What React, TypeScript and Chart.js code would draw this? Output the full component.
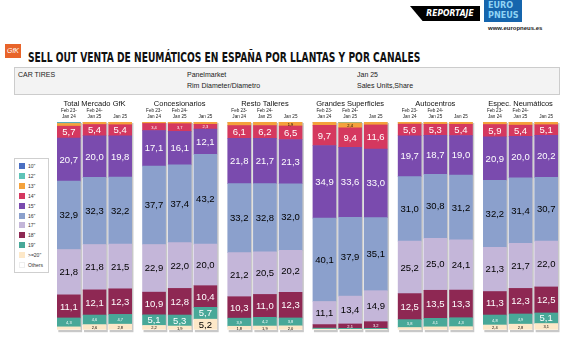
import React, { useEffect, useRef } from "react";
import { Chart, registerables } from "chart.js";
Chart.register(...registerables);

const groups = ["Total Mercado GfK", "Concesionarios", "Resto Talleres", "Grandes Superficies", "Autocentros", "Espec. Neumáticos"];
const periods = [["Feb 23-", "Jan 24"], ["Feb 24-", "Jan 25"], ["", "Jan 25"]];
const sizeLabels = ['10"', '12"', '13"', '14"', '15"', '16"', '17"', '18"', '19"', '>=20"', "Others"];
const sizeColors = ["#4a6fc2", "#5ec3b7", "#f4a23c", "#d5385f", "#7a4bae", "#8ba0cc", "#c4b6d9", "#8e2853", "#48a898", "#fde8c8", "#ffffff"];

// 18 bars: 6 channels x 3 periods
const s10 = [0.3, 0, 0, 0, 0, 0, 0, 0, 0, 0, 0, 0, 0, 0, 0, 0, 0, 0];
const s12 = [0.4, 0, 0, 0, 0, 0, 0, 0, 0, 0, 0.4, 0, 0, 0, 0, 0, 0, 0];
const s13 = [1.3, 1.2, 1.3, 0.7, 0.8, 1.1, 1.7, 1.7, 1.9, 1.6, 2.4, 1.4, 1.0, 1.1, 1.1, 1.2, 1.5, 1.3];
const s14 = [5.7, 5.4, 5.4, 3.4, 3.7, 2.3, 6.1, 6.2, 6.5, 9.7, 9.4, 11.6, 5.6, 5.3, 5.4, 5.9, 5.4, 5.1];
const s15 = [20.7, 20.0, 19.8, 17.1, 16.1, 12.1, 21.8, 21.7, 21.3, 34.9, 33.6, 33.0, 19.7, 18.7, 19.0, 20.9, 20.0, 20.2];
const s16 = [32.9, 32.3, 32.2, 37.7, 37.4, 43.2, 33.2, 32.8, 32.0, 40.1, 37.9, 35.1, 31.0, 30.8, 31.2, 32.2, 31.4, 30.7];
const s17 = [21.8, 21.8, 21.5, 22.9, 22.0, 20.0, 21.2, 20.5, 20.2, 11.1, 13.4, 14.9, 25.2, 25.0, 24.1, 21.3, 21.7, 22.0];
const s18 = [11.1, 12.1, 12.3, 10.9, 12.8, 10.4, 10.3, 11.0, 12.3, 1.7, 2.1, 3.2, 12.5, 13.5, 13.3, 11.3, 12.3, 12.5];
const s19 = [4.3, 4.6, 4.7, 5.1, 5.3, 5.7, 3.9, 4.2, 3.8, 0.5, 0.5, 0.5, 3.8, 4.1, 4.3, 4.8, 4.9, 5.1];
const s20 = [1.5, 2.6, 2.8, 2.2, 1.9, 5.2, 1.8, 1.9, 2.0, 0.4, 0.3, 0.3, 1.2, 1.5, 1.6, 2.4, 2.8, 3.1];
const sOth = [0, 0, 0, 0, 0, 0, 0, 0, 0, 0, 0, 0, 0, 0, 0, 0, 0, 0];

const series = [s10, s12, s13, s14, s15, s16, s17, s18, s19, s20, sOth];
const labelColors = ["#fff", "#000", "#000", "#fff", "#fff", "#000", "#000", "#fff", "#fff", "#000", "#000"];

const GP = 3.32; // group pitch in bar units
const xPos = (j: number) => Math.floor(j / 3) * GP + (j % 3);
const fmt = (v: number) => v.toFixed(1).replace(".", ",");
const FONT = "'Liberation Sans', Arial, sans-serif";

const decoPlugin = {
  id: "deco",
  beforeDatasetsDraw(chart: any) {
    const ctx = chart.ctx;
    const y = chart.scales.y;
    const meta = chart.getDatasetMeta(0);
    ctx.save();
    meta.data.forEach((bar: any) => {
      const w = bar.width;
      ctx.fillStyle = "#c8c8c8";
      ctx.fillRect(bar.x - w / 2 + 1, y.getPixelForValue(100) + 1, w + 0.8, y.getPixelForValue(0) - y.getPixelForValue(100) + 1.2);
    });
    ctx.restore();
  },
  afterDatasetsDraw(chart: any) {
    const ctx = chart.ctx;
    const xs = chart.scales.x;
    ctx.save();
    ctx.textAlign = "center";
    ctx.textBaseline = "middle";
    chart.data.datasets.forEach((ds: any, di: number) => {
      const meta = chart.getDatasetMeta(di);
      const si = ds.sizeIndex;
      meta.data.forEach((bar: any, j: number) => {
        const v = series[si][j];
        if (v < 1.8) return;
        const cy = (bar.y + bar.base) / 2;
        ctx.fillStyle = labelColors[si];
        ctx.font = v >= 5 ? `9.5px ${FONT}` : `4px ${FONT}`;
        ctx.fillText(fmt(v), bar.x, cy + 0.5);
      });
    });
    groups.forEach((g, gi) => {
      const cx = xs.getPixelForValue(gi * GP + 1);
      ctx.fillStyle = "#111";
      ctx.font = `7.5px ${FONT}`;
      ctx.fillText(g, cx, 7);
      periods.forEach((p, pi) => {
        const px = xs.getPixelForValue(gi * GP + pi);
        ctx.font = `4.6px ${FONT}`;
        ctx.fillStyle = "#222";
        if (p[0]) ctx.fillText(p[0], px, 14);
        ctx.fillText(p[1], px, 20);
      });
    });
    ctx.restore();
  },
};

export default function App() {
  const ref = useRef<HTMLCanvasElement>(null);
  const titleRef = useRef<HTMLDivElement>(null);
  useEffect(() => {
    if (titleRef.current) {
      const w = titleRef.current.scrollWidth;
      titleRef.current.style.transform = `scaleX(${392 / w})`;
    }
    if (!ref.current) return;
    const datasets = series
      .map((arr, si) => ({
        label: sizeLabels[si],
        sizeIndex: si,
        data: arr.map((v, j) => ({ x: xPos(j), y: v })),
        backgroundColor: sizeColors[si],
        borderWidth: 0,
        barThickness: 23,
      }))
      .reverse();
    const chart = new Chart(ref.current, {
      type: "bar",
      data: { datasets } as any,
      options: {
        animation: false,
        responsive: false,
        maintainAspectRatio: false,
        layout: { padding: { left: 56, right: 16, top: 25, bottom: 13 } },
        plugins: { legend: { display: false }, tooltip: { enabled: false } },
        scales: {
          x: { type: "linear", stacked: true, display: false, offset: false, min: -0.5, max: 5 * GP + 2.5 },
          y: { stacked: true, display: false, min: 0, max: 100 },
        },
      },
      plugins: [decoPlugin],
    });
    return () => chart.destroy();
  }, []);

  return (
    <div style={{ position: "fixed", left: 0, top: 0, width: 575, height: 343, background: "#fff", fontFamily: FONT, overflow: "hidden" }}>
      <div style={{ position: "absolute", left: 410, top: 6, width: 70, height: 15, background: "#000", clipPath: "polygon(0 0, 100% 0, 100% 100%, 18% 100%)" }} />
      <div style={{ position: "absolute", left: 424, top: 7, width: 52, height: 13, color: "#fff", fontWeight: 900, fontSize: 8.5, lineHeight: "13px", fontStyle: "italic", textAlign: "center", fontFamily: "'DejaVu Sans Condensed', 'DejaVu Sans', sans-serif" }}>REPORTAJE</div>
      <div style={{ position: "absolute", left: 484, top: 0, width: 38, height: 22, background: "#1565ad", color: "#8fd3f4", fontWeight: 900, fontSize: 9, lineHeight: "9.5px", fontFamily: "'DejaVu Sans Condensed', 'DejaVu Sans', sans-serif", padding: "1px 0 0 4px", boxSizing: "border-box" }}>
        EURO<br />PNEUS
      </div>
      <div style={{ position: "absolute", left: 488, top: 25, fontSize: 6, fontWeight: 700, color: "#222" }}>www.europneus.es</div>

      <div style={{ position: "absolute", left: 5, top: 44, width: 16, height: 14, background: "#e8642a", color: "#fff", fontSize: 7, lineHeight: "14px", textAlign: "center", fontStyle: "italic" }}>GfK</div>
      <div ref={titleRef} style={{ position: "absolute", left: 28, top: 49, fontSize: 14, fontWeight: 700, color: "#111", fontFamily: "'DejaVu Sans Condensed', 'DejaVu Sans', sans-serif", whiteSpace: "nowrap", transformOrigin: "0 50%" }}>
        SELL OUT VENTA DE NEUMÁTICOS EN ESPAÑA POR LLANTAS Y POR CANALES
      </div>

      <div style={{ position: "absolute", left: 14, top: 67, width: 546, height: 28, background: "#f3f3f3", border: "1px solid #cccccc", boxSizing: "border-box", fontSize: 7, color: "#222" }}>
        <div style={{ position: "absolute", left: 3, top: 3 }}>CAR TIRES</div>
        <div style={{ position: "absolute", left: 172, top: 3 }}>Panelmarket</div>
        <div style={{ position: "absolute", left: 172, top: 14 }}>Rim Diameter/Diametro</div>
        <div style={{ position: "absolute", left: 342, top: 3 }}>Jan 25</div>
        <div style={{ position: "absolute", left: 342, top: 14 }}>Sales Units,Share</div>
      </div>

      <div style={{ position: "absolute", left: 14, top: 158, width: 35, height: 115, border: "1px solid #cfcfcf", boxSizing: "border-box", background: "#fff" }}>
        {sizeLabels.map((l, i) => (
          <div key={l} style={{ position: "absolute", left: 4, top: 3 + i * 9.9, height: 8, display: "flex", alignItems: "center" }}>
            <div style={{ width: 6, height: 6, background: sizeColors[i], border: i === 10 ? "1px solid #eee" : "none", boxSizing: "border-box" }} />
            <div style={{ marginLeft: 3, fontSize: 5, color: "#333", whiteSpace: "nowrap" }}>{l}</div>
          </div>
        ))}
      </div>

      <canvas ref={ref} width={575} height={246} style={{ position: "absolute", left: 0, top: 97, width: 575, height: 246 }} />
    </div>
  );
}
